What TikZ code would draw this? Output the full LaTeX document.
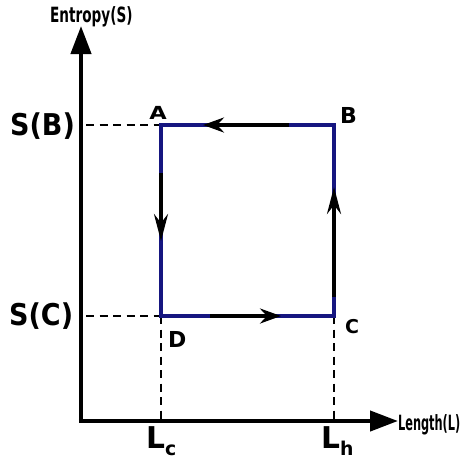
\documentclass[tikz,border=0pt]{standalone}
\usepackage{fontspec}
\setmainfont{DejaVu Sans}
\newfontfamily\condfont{DejaVu Sans Condensed}
\usetikzlibrary{arrows.meta}
\definecolor{cyclecol}{RGB}{22,22,128}
\begin{document}
\begin{tikzpicture}[x=1pt,y=-1pt,
  axis/.style={line width=4.2pt,-{Stealth[length=28pt,width=20pt,inset=0pt]}},
  guide/.style={line width=2.6pt,dash pattern=on 8pt off 5.5pt},
  edge/.style={line width=3.8pt,cyclecol},
  hflow/.style={line width=3.6pt,-{Stealth[length=21pt,width=15pt,inset=7pt]}},
  vflow/.style={line width=3.6pt,-{Stealth[length=27pt,width=14pt,inset=9pt]}},
  big/.style={font=\bfseries\fontsize{30}{30}\selectfont,inner sep=0pt,anchor=base west,xscale=0.9},
  corner/.style={font=\bfseries\fontsize{#1}{#1}\selectfont,inner sep=0pt,anchor=base west},
  axlab/.style={font=\condfont\bfseries\fontsize{21}{21}\selectfont,inner sep=0pt,anchor=base west,xscale=#1}]
\useasboundingbox (0,0) rectangle (465,464);
% points
\coordinate (O) at (81,421);
\coordinate (Ytop) at (81,26);
\coordinate (Xend) at (398,421);
\coordinate (A) at (161,125);
\coordinate (B) at (334,125);
\coordinate (C) at (334,316);
\coordinate (D) at (161,316);
\coordinate (SBd) at (86,125);
\coordinate (SCd) at (86,316);
\coordinate (Lcd) at (161,421);
\coordinate (Lhd) at (334,421);
% guides
\draw[guide] (SBd) -- (A);
\draw[guide] (SCd) -- (D);
\draw[guide] (D) -- (Lcd);
\draw[guide] (C) -- (Lhd);
% axes
\draw[axis] ([yshift=2.1pt]O) -- (Ytop);
\draw[axis] ([xshift=-2.1pt]O) -- (Xend);
% cycle
\draw[edge] (A) -- (B) -- (C) -- (D) -- cycle;
% flow arrows
\coordinate (t1) at (289,125); \coordinate (t2) at (203,125);
\coordinate (l1) at (161,173); \coordinate (l2) at (161,241);
\coordinate (r1) at (334,297); \coordinate (r2) at (334,187);
\coordinate (b1) at (210,316); \coordinate (b2) at (281,316);
\draw[hflow] (t1) -- (t2);
\draw[vflow] (l1) -- (l2);
\draw[vflow] (r1) -- (r2);
\draw[hflow] (b1) -- (b2);
% labels
\node[axlab=0.72] (ylab) at (50,22.5) {Entropy(S)};
\node[axlab=0.6] (xlab) at (398,430) {Length(L)};
\node[big] (sb) at (10,135.5) {S(B)};
\node[big] (sc) at (9,325) {S(C)};
\node[corner=18,xscale=1.25] (la) at (149,119) {A};
\node[corner=22] (lb) at (340,123) {B};
\node[corner=19] (lc) at (345,333) {C};
\node[corner=22] (ld) at (168,347) {D};
\node[big,xscale=1.1] (lcl) at (146,448) {L\raisebox{-7pt}{\fontsize{19}{19}\selectfont c}};
\node[big,xscale=1.1] (lhl) at (321,448) {L\raisebox{-7pt}{\fontsize{19}{19}\selectfont h}};
\end{tikzpicture}
\end{document}
